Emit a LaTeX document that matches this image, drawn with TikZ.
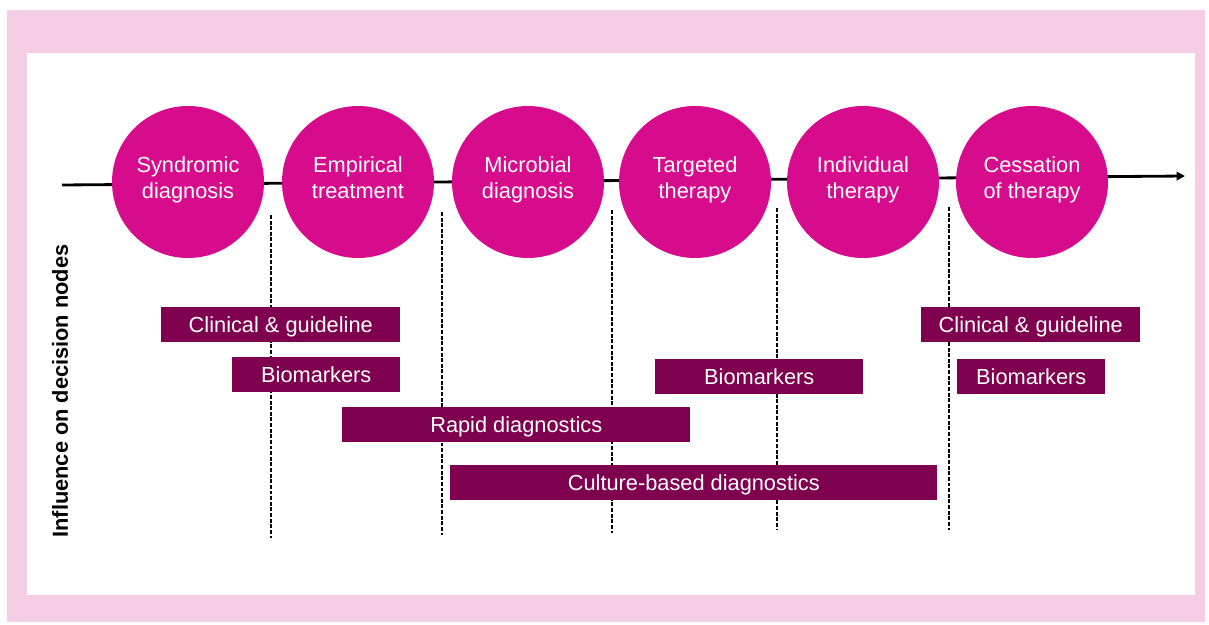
\documentclass[tikz,border=0pt]{standalone}
\usepackage{fontspec}
\setmainfont{Liberation Sans}
\usepackage{xcolor}
\usepackage{tikz}
\usetikzlibrary{arrows.meta, positioning, shapes.geometric}

\definecolor{framepink}{RGB}{245,206,230}
\definecolor{nodepink}{RGB}{214,12,140}
\definecolor{barplum}{RGB}{128,0,80}

\begin{document}
\begin{tikzpicture}[
    decision/.style={circle, fill=nodepink, text=white, minimum size=3.8cm, inner sep=0pt, align=center, font={\fontsize{15.5}{18.5}\selectfont}, execute at begin node={\rule{0pt}{16.65pt}}, execute at end node=\strut},
    bar/.style={rectangle, fill=barplum, text=white, minimum height=0.875cm, inner sep=0pt, text height=13pt, text depth=1.9pt, anchor=west, font={\fontsize{15.5}{18.5}\selectfont}},
    divider/.style={dashed, line width=1.4pt, dash pattern=on 2.8pt off 1.2pt},
    timeline/.style={-{Triangle[length=6pt, width=6pt]}, line width=2pt}
]

% Frame and margins
\useasboundingbox (0,0) rectangle (30.225,-15.625);
\fill[framepink] (0.175,-0.25) rectangle (30.125,-15.55);
\fill[white] (0.675,-1.325) rectangle (29.875,-14.875);

% Timeline
\coordinate (tstart) at (1.55,-4.625);
\coordinate (tend) at (29.625,-4.4);
\draw[timeline] (tstart) -- (tend);

% Decision nodes
\node[decision] (syndromic) at (4.7,-4.55) {Syndromic\\diagnosis};
\node[decision] (empirical) at (8.95,-4.55) {Empirical\\treatment};
\node[decision] (microbial) at (13.2,-4.55) {Microbial\\diagnosis};
\node[decision] (targeted) at (17.375,-4.55) {Targeted\\therapy};
\node[decision] (individual) at (21.575,-4.55) {Individual\\therapy};
\node[decision] (cessation) at (25.8,-4.55) {Cessation\\of therapy};

% Dividers between decision nodes
\coordinate (d1top) at (6.775,-5.375);   \coordinate (d1bot) at (6.775,-13.45);
\coordinate (d2top) at (11.05,-5.3);     \coordinate (d2bot) at (11.05,-13.375);
\coordinate (d3top) at (15.3,-5.25);     \coordinate (d3bot) at (15.3,-13.325);
\coordinate (d4top) at (19.425,-5.2);    \coordinate (d4bot) at (19.425,-13.25);
\coordinate (d5top) at (23.725,-5.175);  \coordinate (d5bot) at (23.725,-13.25);
\draw[divider] (d1top) -- (d1bot);
\draw[divider] (d2top) -- (d2bot);
\draw[divider] (d3top) -- (d3bot);
\draw[divider] (d4top) -- (d4bot);
\draw[divider] (d5top) -- (d5bot);

% Influence bars
\node[bar, minimum width=5.975cm] (clin1) at (4.025,-8.1125) {Clinical \& guideline};
\node[bar, minimum width=4.2cm] (bio1) at (5.8,-9.3625) {Biomarkers};
\node[bar, minimum width=8.7cm] (rapid) at (8.55,-10.6125) {Rapid diagnostics};
\node[bar, minimum width=12.175cm] (culture) at (11.25,-12.0625) {Culture-based diagnostics};
\node[bar, minimum width=5.2cm] (bio2) at (16.375,-9.4125) {Biomarkers};
\node[bar, minimum width=5.475cm] (clin2) at (23.025,-8.1125) {Clinical \& guideline};
\node[bar, minimum width=3.7cm] (bio3) at (23.925,-9.4125) {Biomarkers};

% Axis label
\node[rotate=90, font={\fontsize{15.5}{18.5}\selectfont\bfseries}] (influence) at (1.5,-9.775) {Influence on decision nodes};

\end{tikzpicture}
\end{document}
